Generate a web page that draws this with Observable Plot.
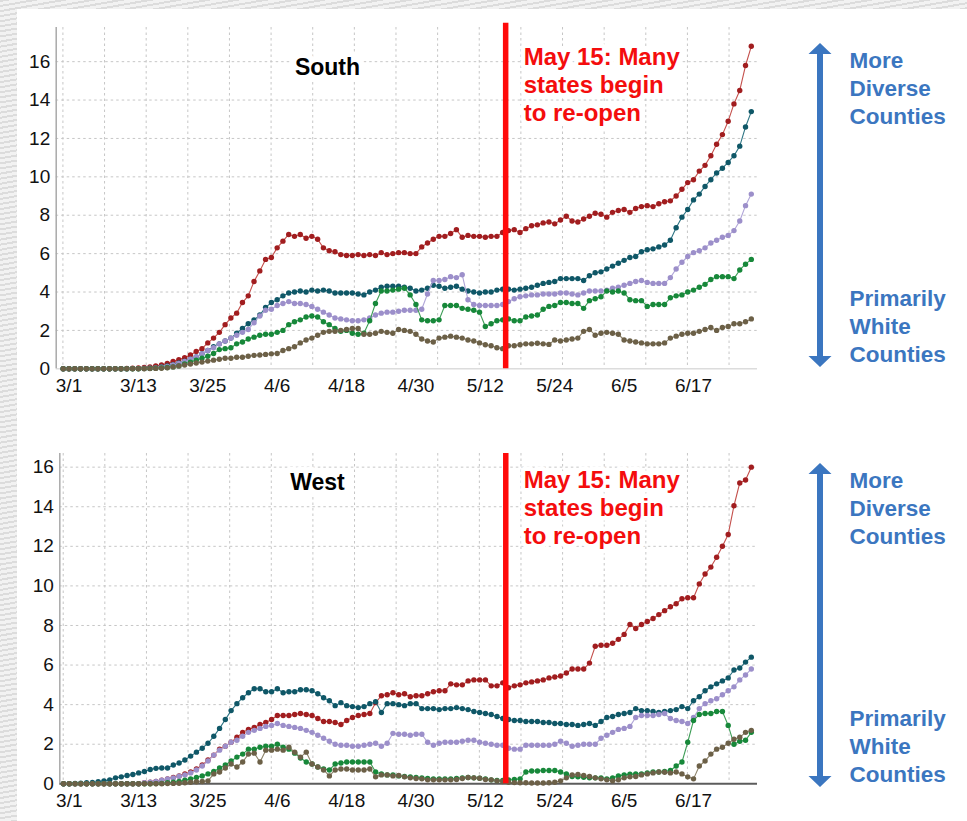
<!DOCTYPE html>
<html>
<head>
<meta charset="utf-8">
<script src="https://cdn.jsdelivr.net/npm/d3@7"></script>
<script src="https://cdn.jsdelivr.net/npm/@observablehq/plot@0.6"></script>
<style>
  html, body { margin: 0; padding: 0; }
  body { width: 967px; height: 821px; position: relative; overflow: hidden; background: #fff;
         font-family: "Liberation Sans", Arial, Helvetica, sans-serif; }
  .stripes { position: absolute; background: repeating-linear-gradient(170deg, #dcdcdc 0 2px, #f2f2f2 2px 5px); }
  .panel { position: absolute; left: 0; }
</style>
</head>
<body>
<div class="stripes" style="left:0;top:0;width:17px;height:821px"></div>
<div class="stripes" style="left:0;top:0;width:967px;height:9px"></div>
<div id="south" class="panel" style="top:0"></div>
<div id="west" class="panel" style="top:420px"></div>
<script>
// ---------------- data ----------------
const firstDay = [2020, 2, 29];            // first daily value (Feb 29, 2020)
const xTickLabels = ["3/1", "3/13", "3/25", "4/6", "4/18", "4/30", "5/12", "5/24", "6/5", "6/17"];
const yTicks = [0, 2, 4, 6, 8, 10, 12, 14, 16];
const reopenLabel = "5/15";
const reopenText = "May 15: Many\nstates begin\nto re-open";
const topNote = "More\nDiverse\nCounties";
const bottomNote = "Primarily\nWhite\nCounties";
const seriesNames = ["Most diverse", "More diverse", "Middle", "Less diverse", "Primarily white"];
const dotColors  = ["#a11d1f", "#0f5767", "#9c8fca", "#17883a", "#6c6047"];
const lineColors = ["#c4504c", "#2f7584", "#b0a5d8", "#3d9d56", "#8d836a"];

const southRed = [
  0,0,0,0,0,0,0,0,0,0,
  0,0.02,0.03,0.05,0.07,0.1,0.15,0.2,0.28,0.38,
  0.48,0.58,0.72,0.9,1.05,1.35,1.6,1.9,2.3,2.65,
  2.9,3.45,3.8,4.55,5.1,5.7,5.8,6.3,6.65,7.0,
  6.9,7.0,6.8,6.9,6.75,6.3,6.15,6.1,5.95,5.9,
  5.9,5.95,5.9,5.95,5.9,6.05,5.95,6.0,6.05,6.05,
  6.0,6.0,6.35,6.55,6.75,6.9,6.9,7.05,7.25,6.85,
  6.95,6.9,6.9,6.85,6.9,6.9,7.1,7.2,7.25,7.1,
  7.3,7.45,7.5,7.6,7.65,7.55,7.75,7.95,7.7,7.65,
  7.8,7.95,8.1,8.05,7.9,8.15,8.25,8.3,8.15,8.35,
  8.45,8.5,8.45,8.6,8.7,8.75,9.0,9.35,9.7,9.85,
  10.3,10.6,11.1,11.7,12.2,12.9,13.8,14.5,15.8,16.8];
const southTeal = [
  0,0,0,0,0,0,0,0,0,0,
  0,0,0.01,0.01,0.02,0.03,0.05,0.1,0.15,0.22,
  0.3,0.4,0.5,0.62,0.78,0.95,1.15,1.3,1.45,1.6,
  1.85,2.1,2.35,2.55,2.8,3.2,3.45,3.6,3.8,3.95,
  4.0,4.05,4.0,4.1,4.05,4.1,4.05,3.95,3.95,3.95,
  3.95,3.9,3.85,4.0,4.1,4.25,4.3,4.3,4.3,4.25,
  4.2,4.05,4.1,4.2,4.35,4.3,4.2,4.25,4.3,4.15,
  4.05,4.0,3.95,4.0,4.0,4.1,4.15,4.15,4.1,4.15,
  4.2,4.25,4.35,4.45,4.5,4.55,4.7,4.7,4.7,4.7,
  4.6,4.85,5.0,5.05,5.2,5.35,5.5,5.65,5.8,5.85,
  6.1,6.2,6.25,6.35,6.45,6.7,7.35,7.9,8.3,8.8,
  9.1,9.5,9.85,10.2,10.45,10.75,11.1,11.6,12.6,13.4];
const southPurple = [
  0,0,0,0,0,0,0,0,0,0,
  0,0,0.01,0.01,0.02,0.03,0.04,0.08,0.12,0.2,
  0.28,0.38,0.5,0.62,0.78,0.95,1.1,1.3,1.45,1.6,
  1.75,1.9,2.05,2.4,2.75,3.05,3.1,3.3,3.4,3.5,
  3.4,3.4,3.35,3.25,3.1,2.95,2.8,2.65,2.6,2.55,
  2.5,2.5,2.55,2.65,2.8,2.9,2.95,2.95,3.0,3.05,
  3.05,3.05,3.1,3.9,4.6,4.6,4.65,4.8,4.75,4.9,
  3.6,3.35,3.3,3.3,3.3,3.3,3.35,3.5,3.65,3.75,
  3.8,3.85,3.85,3.9,3.9,3.9,3.95,3.95,3.9,3.85,
  3.95,4.05,4.05,4.05,4.1,4.2,4.25,4.35,4.45,4.55,
  4.6,4.5,4.45,4.45,4.45,4.75,5.2,5.55,5.85,6.05,
  6.15,6.3,6.55,6.7,6.85,6.95,7.2,7.7,8.5,9.1];
const southGreen = [
  0,0,0,0,0,0,0,0,0,0,
  0,0,0,0,0.01,0.02,0.03,0.05,0.07,0.1,
  0.15,0.25,0.35,0.45,0.55,0.65,0.8,1.0,1.05,1.1,
  1.3,1.4,1.55,1.65,1.75,1.8,1.8,1.9,2.0,2.3,
  2.45,2.55,2.7,2.75,2.7,2.45,2.3,2.1,1.95,2.0,
  1.85,1.8,1.85,2.5,3.4,4.05,4.05,4.1,4.15,4.2,
  3.85,3.35,2.55,2.5,2.5,2.55,3.3,3.3,3.3,3.15,
  3.1,3.05,2.95,2.2,2.35,2.5,2.55,2.6,2.5,2.5,
  2.7,2.75,2.8,3.1,3.25,3.3,3.45,3.45,3.4,3.4,
  3.15,3.55,3.65,3.75,4.05,4.0,4.05,3.95,3.6,3.55,
  3.55,3.25,3.35,3.35,3.35,3.7,3.8,3.85,4.0,4.1,
  4.25,4.4,4.65,4.8,4.8,4.8,4.7,5.15,5.45,5.7];
const southBrown = [
  0,0,0,0,0,0,0,0,0,0,
  0,0,0,0,0,0.01,0.02,0.03,0.05,0.1,
  0.15,0.2,0.25,0.3,0.35,0.4,0.45,0.5,0.55,0.55,
  0.6,0.6,0.65,0.7,0.72,0.75,0.78,0.8,0.95,1.05,
  1.15,1.35,1.5,1.6,1.75,1.9,1.95,1.95,2.0,2.05,
  2.1,2.1,1.8,1.8,1.85,1.95,1.9,1.85,2.05,2.0,
  1.95,1.8,1.55,1.45,1.4,1.6,1.65,1.7,1.65,1.6,
  1.5,1.45,1.35,1.25,1.2,1.1,1.05,1.2,1.2,1.25,
  1.3,1.3,1.33,1.3,1.27,1.5,1.45,1.5,1.55,1.6,
  1.95,2.05,1.75,1.85,1.9,1.85,1.8,1.5,1.45,1.4,
  1.35,1.3,1.3,1.3,1.35,1.6,1.7,1.8,1.85,1.85,
  1.95,2.05,2.15,2.0,2.15,2.2,2.35,2.35,2.45,2.6];

const westRed = [
  0,0,0,0,0,0,0,0,0,0,
  0,0,0,0,0.05,0.08,0.12,0.18,0.25,0.32,
  0.4,0.5,0.6,0.75,0.95,1.2,1.45,1.75,1.9,2.1,
  2.35,2.6,2.75,2.85,3.0,3.1,3.25,3.45,3.45,3.45,
  3.5,3.55,3.5,3.45,3.3,3.15,3.15,3.1,3.0,3.2,
  3.35,3.45,3.5,3.55,4.1,4.45,4.5,4.6,4.5,4.55,
  4.4,4.45,4.45,4.55,4.65,4.7,4.7,5.05,5.0,5.0,
  5.2,5.25,5.25,5.25,4.95,4.95,5.1,4.85,4.95,5.0,
  5.1,5.15,5.2,5.25,5.35,5.4,5.45,5.6,5.8,5.8,
  5.8,6.1,6.95,7.0,7.0,7.1,7.3,7.55,8.05,7.85,
  8.05,8.2,8.35,8.55,8.75,8.95,9.1,9.35,9.4,9.4,
  10.1,10.6,10.95,11.45,12.0,12.6,14.05,15.2,15.35,16.0];
const westTeal = [
  0,0,0.02,0.03,0.05,0.07,0.1,0.15,0.2,0.3,
  0.35,0.42,0.47,0.55,0.62,0.72,0.78,0.8,0.8,0.95,
  1.05,1.2,1.4,1.6,1.8,2.05,2.4,2.8,3.25,3.7,
  4.05,4.35,4.6,4.8,4.8,4.65,4.65,4.8,4.6,4.65,
  4.65,4.75,4.75,4.7,4.55,4.35,4.2,3.95,4.1,3.95,
  3.9,3.85,3.9,4.05,4.15,3.6,4.05,4.05,4.0,3.95,
  4.05,4.05,3.8,3.8,3.8,3.75,3.8,3.8,3.85,3.8,
  3.75,3.65,3.6,3.55,3.5,3.4,3.3,3.25,3.2,3.2,
  3.15,3.15,3.15,3.1,3.1,3.05,3.05,3.0,3.0,2.95,
  3.0,3.05,2.95,3.15,3.35,3.4,3.5,3.55,3.6,3.8,
  3.7,3.7,3.65,3.6,3.65,3.7,3.75,3.9,3.8,4.2,
  4.4,4.7,4.9,5.05,5.2,5.35,5.75,5.85,6.15,6.4];
const westPurple = [
  0,0,0,0,0,0,0,0,0,0,
  0,0,0,0,0.05,0.08,0.12,0.18,0.25,0.3,
  0.38,0.45,0.55,0.7,0.9,1.15,1.45,1.7,1.9,2.1,
  2.2,2.4,2.6,2.7,2.8,2.9,2.95,3.05,2.95,2.9,
  2.85,2.8,2.7,2.6,2.45,2.3,2.15,2.0,1.95,1.95,
  1.9,1.9,1.95,2.0,2.05,1.9,2.05,2.55,2.5,2.5,
  2.45,2.5,2.5,2.1,1.95,2.05,2.1,2.1,2.1,2.15,
  2.2,2.2,2.1,2.05,2.0,1.95,1.95,1.8,1.75,1.75,
  1.95,1.95,1.95,1.95,1.95,2.0,2.15,2.05,1.9,1.95,
  2.0,2.0,2.0,2.3,2.45,2.6,2.75,2.8,2.9,3.35,
  3.45,3.45,3.45,3.5,3.55,3.3,3.2,3.15,3.05,3.35,
  3.8,4.05,4.2,4.3,4.5,4.7,4.9,5.25,5.5,5.8];
const westGreen = [
  0,0,0,0,0,0,0,0,0,0,
  0,0,0,0,0,0,0.01,0.02,0.05,0.08,
  0.12,0.18,0.25,0.32,0.4,0.5,0.62,0.8,0.95,1.15,
  1.35,1.5,1.75,1.75,1.85,1.9,1.9,2.0,1.85,1.75,
  1.55,1.3,1.1,1.0,0.85,0.75,0.7,1.0,1.05,1.1,
  1.1,1.1,1.1,1.1,0.6,0.5,0.45,0.45,0.4,0.37,
  0.35,0.32,0.3,0.27,0.25,0.25,0.25,0.25,0.27,0.3,
  0.32,0.3,0.28,0.25,0.2,0.17,0.17,0.2,0.22,0.25,
  0.6,0.65,0.65,0.67,0.67,0.67,0.6,0.5,0.37,0.35,
  0.33,0.3,0.3,0.3,0.25,0.3,0.4,0.45,0.48,0.5,
  0.5,0.55,0.6,0.6,0.62,0.67,0.9,1.1,2.1,3.2,
  3.5,3.55,3.55,3.65,3.65,2.95,2.0,2.15,2.2,2.6];
const westBrown = [
  0,0,0,0,0,0,0,0,0,0,
  0,0,0,0,0,0,0,0,0.01,0.02,
  0.03,0.05,0.08,0.1,0.12,0.15,0.5,0.6,0.8,1.0,
  0.85,1.1,1.5,1.55,1.1,1.7,1.7,1.75,1.7,1.85,
  1.6,1.35,1.6,1.0,0.85,0.7,0.4,0.7,0.75,0.75,
  0.7,0.7,0.7,0.75,0.35,0.45,0.45,0.4,0.42,0.35,
  0.3,0.27,0.25,0.2,0.2,0.2,0.2,0.2,0.22,0.27,
  0.32,0.3,0.28,0.22,0.2,0.15,0.12,0.08,0.06,0.05,
  0.05,0.04,0.04,0.04,0.05,0.08,0.15,0.3,0.45,0.47,
  0.42,0.37,0.3,0.25,0.2,0.15,0.2,0.3,0.35,0.37,
  0.45,0.5,0.55,0.6,0.58,0.55,0.6,0.5,0.35,0.25,
  0.9,1.15,1.5,1.75,1.85,2.05,2.25,2.35,2.6,2.7];

// ---------------- helpers ----------------
const DAY = 864e5;
const t0 = Date.UTC(firstDay[0], firstDay[1] - 1, firstDay[2]);
const dates = southRed.map((_, i) => new Date(t0 + i * DAY));
const md = s => { const [m, d] = s.split("/").map(Number); return new Date(Date.UTC(firstDay[0], m - 1, d)); };
const tickDates = xTickLabels.map(md);
const reopenDate = md(reopenLabel);
const gridDates = d3.range(17).map(j => new Date(t0 + (7.2 * j - 0.05) * DAY));
const fontFamily = "'Liberation Sans', Arial, Helvetica, sans-serif";
const blue = "#3b76c0";
const tickFont = 19;

function arrowMark(color) {
  return (index, scales, values, dims) => {
    const x = dims.width - dims.marginRight + 63;
    const top = 43, bot = 367, hw = 11.5, hh = 11;
    const g = d3.create("svg:g");
    g.append("line").attr("x1", x).attr("x2", x).attr("y1", top + hh - 1).attr("y2", bot - hh + 1)
      .attr("stroke", color).attr("stroke-width", 6);
    g.append("path")
      .attr("d", `M${x - hw},${top + hh}L${x},${top}L${x + hw},${top + hh}Z M${x - hw},${bot - hh}L${x},${bot}L${x + hw},${bot - hh}Z`)
      .attr("fill", color);
    return g.node();
  };
}

function drawPanel(id, cfg) {
  const H = 400;
  const data = cfg.series.flatMap((vals, k) => vals.map((v, i) => ({date: dates[i], value: v, series: seriesNames[k]})));
  const xDomain = [new Date(t0 + cfg.leftDay * DAY), new Date(t0 + 120.07 * DAY)];
  const mt = cfg.top, mb = H - cfg.base;
  const seriesMarks = [];
  seriesNames.forEach((name, k) => {
    const d = data.filter(r => r.series === name);
    seriesMarks.push(Plot.line(d, {x: "date", y: "value", stroke: lineColors[k], strokeWidth: 1.1}));
    seriesMarks.push(Plot.dot(d, {x: "date", y: "value", fill: dotColors[k], r: 2.7}));
  });
  const chart = Plot.plot({
    width: 967,
    height: H,
    marginLeft: cfg.left,
    marginRight: 967 - 757,
    marginTop: mt,
    marginBottom: mb,
    style: {fontFamily, fontSize: "19px", color: "#111", background: "transparent", overflow: "visible"},
    x: {type: "utc", domain: xDomain, axis: null},
    y: {domain: [0, cfg.ymax], axis: null},
    marks: [
      Plot.ruleY(yTicks.filter(d => d > 0), {stroke: "#c6c6c6", strokeDasharray: "2.5,3"}),
      Plot.ruleX(gridDates, {stroke: "#c6c6c6", strokeDasharray: "2.5,3"}),
      Plot.ruleY([0], {stroke: cfg.baseColor, strokeWidth: cfg.baseWidth}),
      Plot.ruleX([xDomain[0]], {stroke: "#a9a9a9", strokeWidth: 1.5}),
      // tick labels
      Plot.text(tickDates, {x: d => d, text: (d, i) => xTickLabels[i], frameAnchor: "bottom", dy: 10,
        lineAnchor: "top", textAnchor: "middle", fontSize: tickFont, fill: "#111"}),
      Plot.text(yTicks, {y: d => d, text: d => String(d), frameAnchor: "left", dx: -6,
        textAnchor: "end", lineAnchor: "middle", fontSize: tickFont, fill: "#111"}),
      Plot.text([cfg.title], {frameAnchor: "top-left", dx: cfg.titleX - cfg.left, dy: cfg.titleY - mt,
        textAnchor: "middle", lineAnchor: "middle", fontSize: 23, fontWeight: "bold", fill: "#000",
        stroke: "#fff", strokeWidth: 12}),
      ...seriesMarks,
      Plot.ruleX([reopenDate], {stroke: "#ff0a0a", strokeWidth: 5.5, dx: 3, y1: 0, y2: cfg.ruleTop}),
      Plot.text([{date: reopenDate, label: reopenText}], {x: "date", text: "label", frameAnchor: "top",
        dx: 21, dy: cfg.noteTop - mt, textAnchor: "start", lineAnchor: "top", lineHeight: 1.17,
        fontSize: 24, fontWeight: "bold", fill: "#f40d0d", stroke: "#fff", strokeWidth: 9}),
      Plot.text([topNote], {frameAnchor: "top-right", dx: 92, dy: 48 - mt, textAnchor: "start",
        lineAnchor: "top", lineHeight: 1.245, fontSize: 22.5, fontWeight: "bold", fill: blue}),
      Plot.text([bottomNote], {frameAnchor: "top-right", dx: 92, dy: 286 - mt, textAnchor: "start",
        lineAnchor: "top", lineHeight: 1.245, fontSize: 22.5, fontWeight: "bold", fill: blue}),
      arrowMark(blue)
    ]
  });
  document.getElementById(id).appendChild(chart);
}

drawPanel("south", {
  title: "South", titleX: 327, titleY: 67,
  series: [southRed, southTeal, southPurple, southGreen, southBrown],
  left: 55.7, leftDay: -1.211, top: 27, base: 368.3, ymax: 17.78, ruleTop: 18.0,
  noteTop: 44.5, baseColor: "#dcdcdc", baseWidth: 1.5
});
drawPanel("west", {
  title: "West", titleX: 317, titleY: 61.7,
  series: [westRed, westTeal, westPurple, westGreen, westBrown],
  left: 59.3, leftDay: -0.64, top: 33, base: 363.3, ymax: 16.69, ruleTop: 16.69,
  noteTop: 47.5, baseColor: "#5c5c5c", baseWidth: 2
});
</script>
</body>
</html>
